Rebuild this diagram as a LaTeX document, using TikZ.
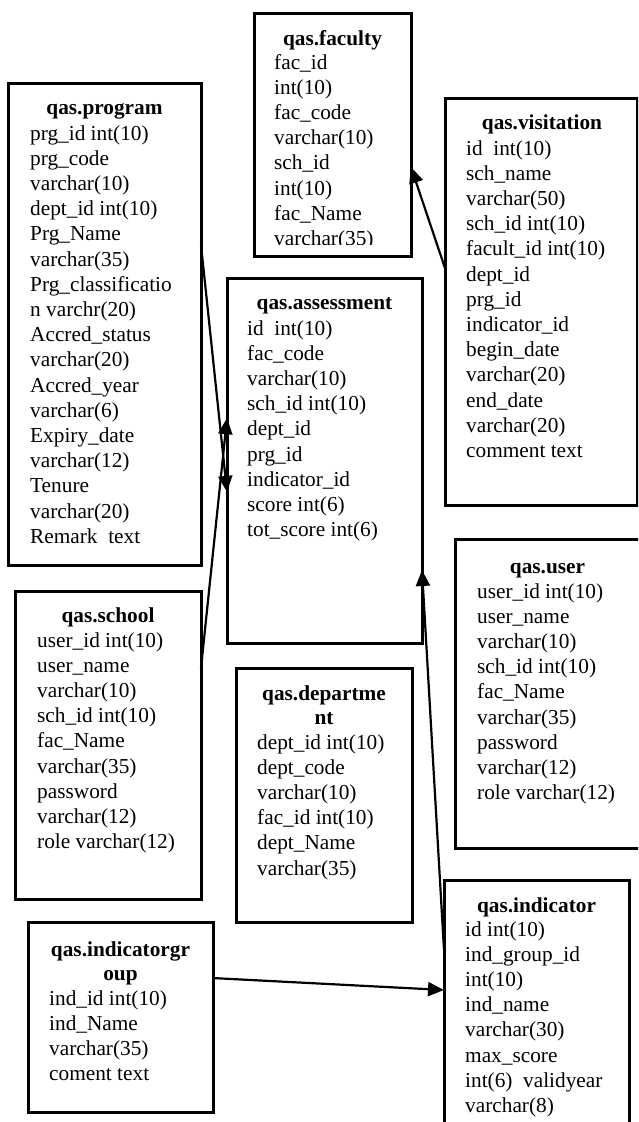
\documentclass[tikz,border=0pt]{standalone}
\usepackage{fontspec}
\setmainfont{Liberation Serif}
\usetikzlibrary{calc,arrows.meta}
\newcommand\rowsbox[1]{\vtop{\baselineskip=25.2pt\lineskiplimit=-100pt\lineskip=0pt\relax #1}}
\newcommand\rw[1]{\hbox{#1}}
\tikzset{
  tblbox/.style={draw, line width=3pt, rectangle, inner sep=0pt, outer sep=0pt, anchor=north west},
  ttl/.style={font=\fontsize{21.3pt}{25.2pt}\selectfont\bfseries, inner sep=0pt, anchor=base},
  body/.style={font=\fontsize{21.3pt}{25.2pt}\selectfont, inner sep=0pt, anchor=base west},
  conn/.style={line width=2.2pt, -{Triangle[length=16pt,width=14pt]}},
}
\begin{document}
\begin{tikzpicture}[x=1pt,y=-1pt]
\clip (0,0) rectangle (638,1122);
\fill[white] (0,0) rectangle (638,1122);

% faculty
\node[tblbox, minimum width=157pt, minimum height=243pt] (faculty) at (254,13) {};
\node[ttl] (faculty-t) at (332.5,45) {qas.faculty};
\begin{scope}
\clip (254,13) rectangle (411,244);
\node[body] (faculty-b) at (274,69) {\rowsbox{\rw{fac\_id}\rw{int(10)}\rw{fac\_code}\rw{varchar(10)}\rw{sch\_id}\rw{int(10)}\rw{fac\_Name}\rw{varchar(35)}}};
\end{scope}

% program
\node[tblbox, minimum width=193pt, minimum height=482pt] (program) at (8,83) {};
\node[ttl] (program-t) at (104.5,114) {qas.program};
\node[body] (program-b) at (30,140) {\rowsbox{\rw{prg\_id int(10)}\rw{prg\_code}\rw{varchar(10)}\rw{dept\_id int(10)}\rw{Prg\_Name}\rw{varchar(35)}\rw{Prg\_classificatio}\rw{n varchr(20)}\rw{Accred\_status}\rw{varchar(20)}\rw{Accred\_year}\rw{varchar(6)}\rw{Expiry\_date}\rw{varchar(12)}\rw{Tenure}\rw{varchar(20)}\rw{Remark\ \ text}}};

% assessment
\node[tblbox, minimum width=195pt, minimum height=365pt] (assessment) at (227,278) {};
\node[ttl] (assessment-t) at (324.5,309) {qas.assessment};
\node[body] (assessment-b) at (247,335) {\rowsbox{\rw{id\ \ int(10)}\rw{fac\_code}\rw{varchar(10)}\rw{sch\_id int(10)}\rw{dept\_id}\rw{prg\_id}\rw{indicator\_id}\rw{score int(6)}\rw{tot\_score int(6)}}};

% visitation
\node[tblbox, minimum width=192pt, minimum height=407pt] (visitation) at (445,98) {};
\node[ttl] (visitation-t) at (542,129) {qas.visitation};
\node[body] (visitation-b) at (466,155) {\rowsbox{\rw{id\ \ int(10)}\rw{sch\_name}\rw{varchar(50)}\rw{sch\_id int(10)}\rw{facult\_id int(10)}\rw{dept\_id}\rw{prg\_id}\rw{indicator\_id}\rw{begin\_date}\rw{varchar(20)}\rw{end\_date}\rw{varchar(20)}\rw{comment text}}};

% user
\node[tblbox, minimum width=185pt, minimum height=309pt] (user) at (455,539) {};
\node[ttl] (user-t) at (547.5,573) {qas.user};
\node[body] (user-b) at (477,598) {\rowsbox{\rw{user\_id int(10)}\rw{user\_name}\rw{varchar(10)}\rw{sch\_id int(10)}\rw{fac\_Name}\rw{varchar(35)}\rw{password}\rw{varchar(12)}\rw{role varchar(12)}}};

% school
\node[tblbox, minimum width=186pt, minimum height=308pt] (school) at (15,591) {};
\node[ttl] (school-t) at (108,622) {qas.school};
\node[body] (school-b) at (37,647) {\rowsbox{\rw{user\_id int(10)}\rw{user\_name}\rw{varchar(10)}\rw{sch\_id int(10)}\rw{fac\_Name}\rw{varchar(35)}\rw{password}\rw{varchar(12)}\rw{role varchar(12)}}};

% department
\node[tblbox, minimum width=176pt, minimum height=254pt] (department) at (236,668) {};
\node[ttl] (department-t1) at (324,700) {qas.departme};
\node[ttl] (department-t2) at (324,724) {nt};
\node[body] (department-b) at (257,749) {\rowsbox{\rw{dept\_id int(10)}\rw{dept\_code}\rw{varchar(10)}\rw{fac\_id int(10)}\rw{dept\_Name}\rw{varchar(35)}}};

% indicatorgroup
\node[tblbox, minimum width=185pt, minimum height=190pt] (indgroup) at (28,922) {};
\node[ttl] (indgroup-t1) at (120.5,956) {qas.indicatorgr};
\node[ttl] (indgroup-t2) at (120.5,980) {oup};
\node[body] (indgroup-b) at (49,1005) {\rowsbox{\rw{ind\_id int(10)}\rw{ind\_Name}\rw{varchar(35)}\rw{coment text}}};

% indicator
\node[tblbox, minimum width=185pt, minimum height=260pt] (indicator) at (444,880) {};
\node[ttl] (indicator-t) at (536.5,912) {qas.indicator};
\node[body] (indicator-b) at (465,936) {\rowsbox{\rw{id int(10)}\rw{ind\_group\_id}\rw{int(10)}\rw{ind\_name}\rw{varchar(30)}\rw{max\_score}\rw{int(6)\ \ validyear}\rw{varchar(8)}}};

% connectors
\draw[conn] ($(visitation.north west)!0.418!(visitation.south west)$) -- ($(faculty.north east)!0.634!(faculty.south east)$);
\draw[conn] ($(program.north east)!0.336!(program.south east)$) -- ($(assessment.north west)!0.586!(assessment.south west)$);
\draw[conn] ($(school.north east)!0.25!(school.south east)$) -- ($(assessment.north west)!0.384!(assessment.south west)$);
\draw[conn] ($(indicator.north west)!0.269!(indicator.south west)$) -- ($(assessment.north east)!0.8!(assessment.south east)$);
\draw[conn] ($(indgroup.north east)!0.295!(indgroup.south east)$) -- ($(indicator.north west)!0.423!(indicator.south west)$);
\end{tikzpicture}
\end{document}
